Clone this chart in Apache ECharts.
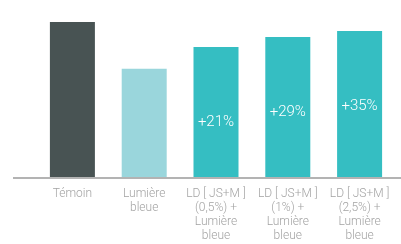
<!DOCTYPE html>
<html><head><meta charset="utf-8">
<script src="https://cdn.jsdelivr.net/npm/echarts@6/dist/echarts.min.js"></script>
<style>html,body{margin:0;padding:0;background:#fff}#c{width:401px;height:244px}</style>
</head><body><div id="c"></div>
<script>
const categories = ['Témoin', 'Lumière\nbleue', 'LD [ JS+M ]\n(0,5%) +\nLumière\nbleue', 'LD [ JS+M ]\n(1%) +\nLumière\nbleue', 'LD [ JS+M ]\n(2,5%) +\nLumière\nbleue'];
const values = [100, 70, 84, 90.4, 94.2];
const barLabels = ['', '', '+21%', '+29%', '+35%'];
const colors = ['#485353', '#9ad6dc', '#35bec2', '#35bec2', '#35bec2'];

const chart = echarts.init(document.getElementById('c'), null, {renderer: 'canvas'});
chart.setOption({
  animation: false,
  grid: {left: 36.5, right: 5.5, top: 22, bottom: 66},
  xAxis: {
    type: 'category', data: categories,
    axisLine: {show: false}, axisTick: {show: false},
    axisLabel: {color: '#a3a3a3', fontFamily: 'Roboto', fontWeight: 300, fontSize: 12, lineHeight: 14, margin: 9, interval: 0}
  },
  yAxis: {type: 'value', min: 0, max: 100, show: false, splitLine: {show: false}},
  series: [{
    type: 'bar', barWidth: 45,
    data: values.map((v, i) => ({value: v, itemStyle: {color: colors[i]}, label: {show: !!barLabels[i], formatter: barLabels[i]}})),
    label: {position: ['50%', 75], align: 'center', verticalAlign: 'middle', color: '#fff', fontFamily: 'Roboto', fontWeight: 300, fontSize: 15}
  }]
});
const y0 = chart.convertToPixel({yAxisIndex: 0}, 0);
chart.setOption({graphic: [{type: 'line', shape: {x1: 13, y1: y0, x2: 401, y2: y0}, style: {stroke: '#b3b3b3', lineWidth: 2}, z: 10}]});
</script></body></html>
